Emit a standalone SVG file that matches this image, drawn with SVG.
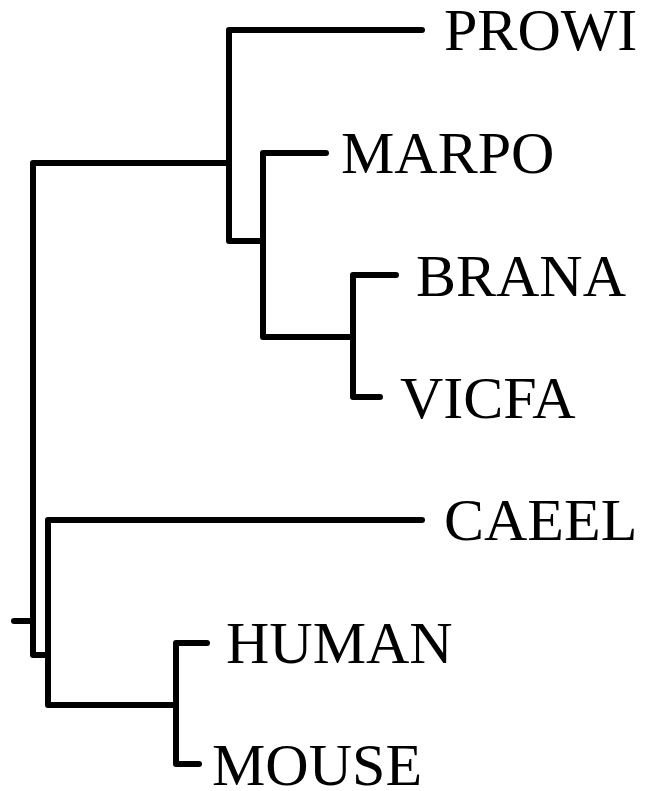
<svg xmlns="http://www.w3.org/2000/svg" width="649" height="791" viewBox="0 0 649 791">
<style>
.br{fill:none;stroke:#000;stroke-width:6;stroke-linecap:round;stroke-linejoin:round}
.lb{font-family:"Liberation Serif","Times New Roman",serif;font-size:60px;fill:#000}
</style>
<rect width="649" height="791" fill="#fff"/>
<g id="connectors">
<path class="br" d="M14,621 H33"/>
<path class="br" d="M229,163 H33 V655 H48"/>
<path class="br" d="M422,30 H229 V241 H263"/>
<path class="br" d="M326,153 H263 V337 H353"/>
<path class="br" d="M396,275 H353 V397 H380"/>
<path class="br" d="M422,520 H48 V705 H176"/>
<path class="br" d="M207,643 H176 V764 H199"/>
</g>
<g id="PROWI"><text class="lb" x="444" y="50">PROWI</text></g>
<g id="MARPO"><text class="lb" x="341" y="173">MARPO</text></g>
<g id="BRANA"><text class="lb" x="416" y="296">BRANA</text></g>
<g id="VICFA"><text class="lb" x="400" y="418">VICFA</text></g>
<g id="CAEEL"><text class="lb" x="444" y="540">CAEEL</text></g>
<g id="HUMAN"><text class="lb" x="226" y="663">HUMAN</text></g>
<g id="MOUSE"><text class="lb" x="212" y="785">MOUSE</text></g>
</svg>
